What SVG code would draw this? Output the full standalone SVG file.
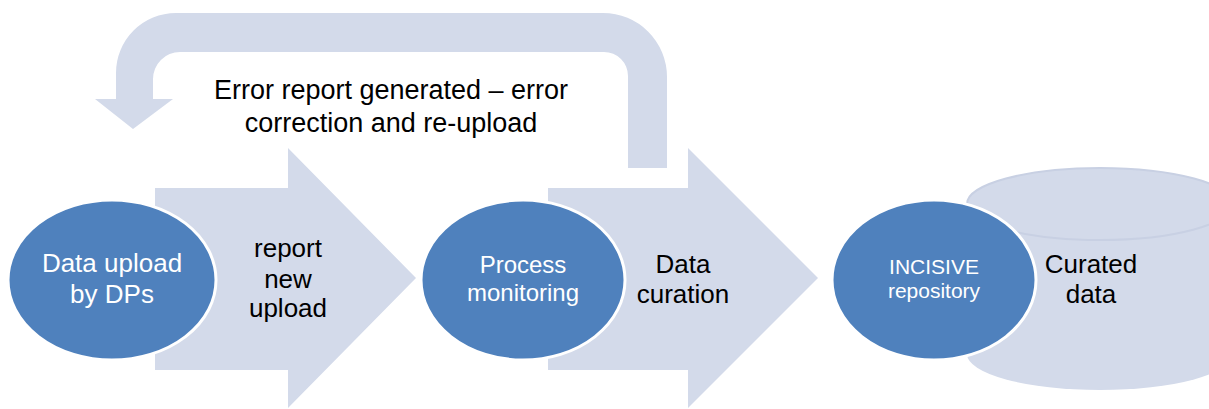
<svg xmlns="http://www.w3.org/2000/svg" width="1209" height="409" viewBox="0 0 1209 409">
  <style>
    .band { fill: #D3DAEA; }
    .node { fill: #4F81BD; stroke: #FFFFFF; stroke-width: 3; }
    .wt { fill: #FFFFFF; font-family: "Liberation Sans", Arial, sans-serif; text-anchor: middle; }
    .bt { fill: #000000; font-family: "Liberation Sans", Arial, sans-serif; text-anchor: middle; }
  </style>
  <rect width="1209" height="409" fill="#FFFFFF"/>

  <g id="connectors">
    <path class="band" d="M116,99 L116,73 A60,60 0 0 1 176,13 L603,13 A64,64 0 0 1 667,77 L667,168 L628,168 L628,76 A24,24 0 0 0 604,52 L180,52 A27,27 0 0 0 153,79 L153,99 L173,99 L133,129 L95,99 Z"/>
    <text class="bt" font-size="27"><tspan x="391" y="99">Error report generated – error</tspan><tspan x="391" y="132">correction and re-upload</tspan></text>
  </g>

  <g id="arrow-report">
    <polygon class="band" points="155,188 288,188 288,148 416,278 288,408 288,370 155,370"/>
    <text class="bt" font-size="26"><tspan x="288" y="257">report</tspan><tspan x="288" y="288">new</tspan><tspan x="288" y="317">upload</tspan></text>
  </g>

  <g id="arrow-curation">
    <polygon class="band" points="548,188 688,188 688,148 818,278 688,408 688,370 548,370"/>
    <text class="bt" font-size="26"><tspan x="683" y="273">Data</tspan><tspan x="683" y="303">curation</tspan></text>
  </g>

  <g id="curated-data">
    <path class="band" d="M967,204 A133,36 0 0 1 1233,204 L1233,354 A133,36 0 0 1 967,354 Z"/>
    <ellipse cx="1100" cy="204" rx="133" ry="36" fill="none" stroke="#C8D0E3" stroke-width="2"/>
    <text class="bt" font-size="26"><tspan x="1091" y="273">Curated</tspan><tspan x="1091" y="303">data</tspan></text>
  </g>

  <g id="data-upload">
    <ellipse class="node" cx="112" cy="280" rx="104" ry="80"/>
    <text class="wt" font-size="26"><tspan x="112" y="272">Data upload</tspan><tspan x="112" y="303">by DPs</tspan></text>
  </g>

  <g id="process-monitoring">
    <ellipse class="node" cx="523" cy="280" rx="102" ry="80"/>
    <text class="wt" font-size="24"><tspan x="523" y="273">Process</tspan><tspan x="523" y="301">monitoring</tspan></text>
  </g>

  <g id="incisive-repository">
    <ellipse class="node" cx="934" cy="280" rx="102" ry="80"/>
    <text class="wt" font-size="21"><tspan x="934" y="274">INCISIVE</tspan><tspan x="934" y="298">repository</tspan></text>
  </g>
</svg>
